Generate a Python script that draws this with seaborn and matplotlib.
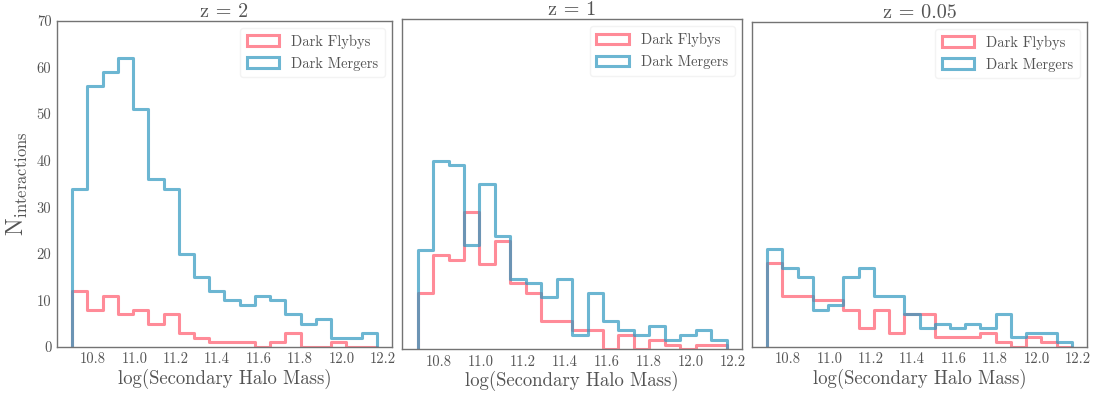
import numpy as np
import pandas as pd
import seaborn as sns
import matplotlib
matplotlib.use("Agg")
import matplotlib.pyplot as plt
from matplotlib.patches import Patch

# ---- data (counts per bin) ----
bin_lo, bin_hi, n_bins = 10.70, 12.17, 20
titles = ["z = 2", "z = 1", "z = 0.05"]

flybys_z2 = [12, 8, 11, 7, 8, 5, 7, 3, 2, 1, 1, 1, 0, 1, 3, 0, 0, 1, 0, 0]
mergers_z2 = [34, 56, 59, 62, 51, 36, 34, 20, 15, 12, 10, 9, 11, 10, 7, 5, 6, 2, 2, 3]

flybys_z1 = [12, 20, 19, 29, 18, 23, 14, 12, 6, 6, 4, 4, 0, 3, 0, 2, 1, 0, 1, 1]
mergers_z1 = [21, 40, 39, 22, 35, 24, 15, 14, 11, 15, 3, 12, 6, 4, 3, 5, 2, 3, 4, 2]

flybys_z005 = [18, 11, 11, 10, 10, 8, 4, 8, 3, 7, 7, 2, 2, 2, 3, 1, 0, 2, 1, 0]
mergers_z005 = [21, 17, 15, 8, 9, 15, 17, 11, 11, 7, 4, 5, 4, 5, 4, 7, 2, 3, 3, 1]

series_names = ["Dark Flybys", "Dark Mergers"]
xticks = [10.8, 11.0, 11.2, 11.4, 11.6, 11.8, 12.0, 12.2]
yticks = [0, 10, 20, 30, 40, 50, 60, 70]

# ---- style ----
sns.set_theme(style="white")
plt.rcParams["font.family"] = "serif"
plt.rcParams["font.serif"] = ["cmr10", "DejaVu Serif"]
plt.rcParams["mathtext.fontset"] = "cm"
plt.rcParams["axes.unicode_minus"] = False
plt.rcParams["axes.formatter.use_mathtext"] = True
txt = "0.33"
plt.rcParams["text.color"] = txt
plt.rcParams["axes.labelcolor"] = txt
plt.rcParams["xtick.color"] = txt
plt.rcParams["ytick.color"] = txt

colors = ["#ff5a6c", "#2e98c0"]
alpha = 0.7
lw = 2.2

edges = np.linspace(bin_lo, bin_hi, n_bins + 1)
centers = (edges[:-1] + edges[1:]) / 2

fig = plt.figure(figsize=(10.94, 3.94), dpi=100)
positions = [
    [0.0521, 0.1193, 0.3062, 0.8282],
    [0.3677, 0.1135, 0.3105, 0.8383],
    [0.6874, 0.1200, 0.3062, 0.8250],
]
panels = [(flybys_z2, mergers_z2), (flybys_z1, mergers_z1), (flybys_z005, mergers_z005)]

for i, (pos, (fly, mer), title) in enumerate(zip(positions, panels, titles)):
    ax = fig.add_axes(pos)
    df = pd.DataFrame({
        "mass": np.concatenate([centers, centers]),
        "count": np.concatenate([fly, mer]).astype(float),
        "kind": [series_names[0]] * n_bins + [series_names[1]] * n_bins,
    })
    for name, col in zip(series_names, colors):
        sub = df[df["kind"] == name].reset_index(drop=True)
        sns.histplot(data=sub, x="mass", weights="count", bins=n_bins,
                     binrange=(bin_lo, bin_hi),
                     element="step", fill=False, color=col, alpha=alpha,
                     linewidth=lw, ax=ax)
        # close the outline down to zero at both ends (like histtype='step')
        line = ax.lines[-1]
        xd = np.asarray(line.get_xdata(), dtype=float)
        yd = np.asarray(line.get_ydata(), dtype=float)
        line.set_data(np.concatenate([[xd[0]], xd, [xd[-1]]]),
                      np.concatenate([[0.0], yd, [0.0]]))
    ax.set_ylim(0, 70)
    ax.set_xticks(xticks)
    ax.set_xticklabels([f"{t:.1f}" for t in xticks], fontsize=10.5)
    ax.set_yticks(yticks)
    if i == 0:
        ax.set_yticklabels([str(t) for t in yticks], fontsize=10.5)
        ax.set_ylabel(r"N$_{\rm interactions}$", fontsize=17, labelpad=5)
    else:
        ax.set_yticklabels([])
        ax.set_ylabel("")
    ax.set_xlabel("log(Secondary Halo Mass)", fontsize=13.5, labelpad=2)
    ax.set_title(title, fontsize=14.5, pad=3)
    ax.tick_params(axis="both", length=0, pad=4)
    for s in ax.spines.values():
        s.set_color("0.45")
        s.set_linewidth(1.0)
    handles = [Patch(facecolor="none", edgecolor=c, alpha=alpha, linewidth=lw)
               for c in colors]
    leg = ax.legend(handles, series_names, loc="upper right", fontsize=10.5,
                    frameon=True, handlelength=2.2, handleheight=0.75,
                    borderpad=0.45, labelspacing=0.55, handletextpad=0.85)
    leg.get_frame().set_edgecolor("0.94")

fig.savefig("out.png", dpi=100)
